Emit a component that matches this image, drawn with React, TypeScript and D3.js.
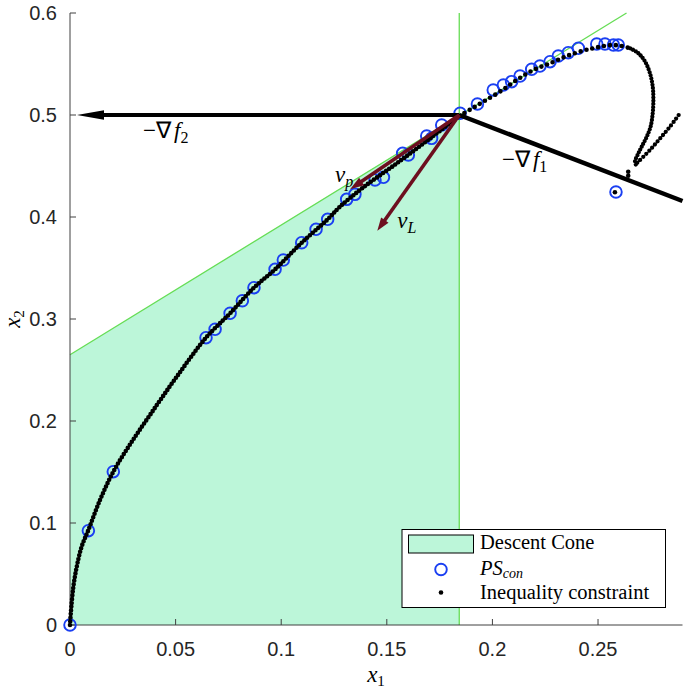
import React from 'react';
import * as d3 from 'd3';

// --- Data ---
const xTicks = [0, 0.05, 0.1, 0.15, 0.2, 0.25];
const xTickLabels = ['0', '0.05', '0.1', '0.15', '0.2', '0.25'];
const yTicks = [0, 0.1, 0.2, 0.3, 0.4, 0.5, 0.6];
const yTickLabels = ['0', '0.1', '0.2', '0.3', '0.4', '0.5', '0.6'];

const apex: [number, number] = [0.1843, 0.5];
const coneEdgeX = 0.1843;
const tangentLine: [number, number][] = [[0, 0.265], [0.2635, 0.6]];
const conePolygon: [number, number][] = [[0, 0], [0, 0.265], [0.1843, 0.5], [0.1843, 0]];

// inequality constraint (black dots), by branch
const lowerBranch: [number, number][] = [
  [0, 0], [0.0004, 0.012], [0.0016, 0.0376], [0.0032, 0.0572], [0.0055, 0.0768],
  [0.0087, 0.0931], [0.0142, 0.1225], [0.0205, 0.1503], [0.0284, 0.177], [0.0379, 0.206],
  [0.0497, 0.241], [0.0644, 0.2817], [0.0758, 0.3056], [0.0871, 0.3307], [0.0971, 0.3487],
  [0.1097, 0.3748], [0.122, 0.3977], [0.1278, 0.4101], [0.1389, 0.4291], [0.1547, 0.4526],
  [0.1705, 0.4771], [0.1843, 0.499],
];
const upperBranch: [number, number][] = [
  [0.1843, 0.499], [0.19, 0.506], [0.1957, 0.513], [0.2036, 0.5229], [0.2115, 0.5343],
  [0.2194, 0.5441], [0.2273, 0.5507], [0.2352, 0.5578], [0.243, 0.5631], [0.2478, 0.5654],
  [0.2525, 0.5676], [0.2573, 0.5686], [0.2612, 0.5676], [0.2652, 0.5654],
];
const loopBranch: [number, number][] = [
  [0.2652, 0.5654], [0.2691, 0.5605], [0.2723, 0.5523], [0.2746, 0.5409], [0.2759, 0.5278],
  [0.2762, 0.5147], [0.2759, 0.5017], [0.2749, 0.4886], [0.2731, 0.4788], [0.2707, 0.469],
  [0.2691, 0.4624], [0.2675, 0.4542], [0.268, 0.451],
];
const rightBranch: [number, number][] = [
  [0.2686, 0.4533], [0.2746, 0.4657], [0.2794, 0.4771], [0.2841, 0.4886], [0.2888, 0.5017],
];
const looseDots: [number, number][] = [[0.2643, 0.4444], [0.2643, 0.4405], [0.258, 0.4242]];

// PS_con (blue circles)
const psCon: [number, number][] = [
  [0, 0], [0.0087, 0.0925], [0.0205, 0.1503], [0.0644, 0.2817], [0.0687, 0.2899],
  [0.0758, 0.3056], [0.0816, 0.3179], [0.0871, 0.3307], [0.0971, 0.3487], [0.101, 0.3578],
  [0.1097, 0.3748], [0.1165, 0.3879], [0.122, 0.3977], [0.131, 0.4173], [0.1349, 0.4222],
  [0.1444, 0.4363], [0.1484, 0.4389], [0.1575, 0.4624], [0.1602, 0.4608], [0.1689, 0.4794],
  [0.1712, 0.4771], [0.176, 0.4902], [0.1847, 0.5017], [0.1929, 0.5108], [0.2004, 0.5245],
  [0.2052, 0.5294], [0.2091, 0.5327], [0.2131, 0.5382], [0.2186, 0.5448], [0.2225, 0.548],
  [0.2273, 0.5523], [0.2312, 0.5578], [0.2359, 0.5611], [0.2407, 0.5654], [0.2494, 0.5696],
  [0.2533, 0.5696], [0.2573, 0.5686], [0.2596, 0.5686], [0.2585, 0.4245],
];

// vector ends (all start at apex)
const gradF2End: [number, number] = [0.0033, 0.5];
const gradF1End: [number, number] = [0.29, 0.4157];
const nuPEnd: [number, number] = [0.1326, 0.4271];
const nuLEnd: [number, number] = [0.1455, 0.3866];

const W = 685;
const H = 688;
const GREEN_FILL = '#bcf6d9';
const GREEN_LINE = '#66dd55';
const BLUE = '#1a3ff2';
const MAROON = '#6d0f1f';
const SANS = '"Liberation Sans", Arial, sans-serif';
const SERIF = '"Liberation Serif", "Times New Roman", serif';

const x = d3.scaleLinear().domain([0, 0.29]).range([70, 682.5]);
const y = d3.scaleLinear().domain([0, 0.6]).range([625, 13]);

const line = d3.line<[number, number]>().x(d => x(d[0])).y(d => y(d[1]));
const smooth = d3.line<[number, number]>().x(d => x(d[0])).y(d => y(d[1])).curve(d3.curveCatmullRom);

// arrow = shaft + filled triangle head, in pixel space
function arrow(from: [number, number], to: [number, number], headLen: number, headHalf: number) {
  const x0 = x(from[0]), y0 = y(from[1]), x1 = x(to[0]), y1 = y(to[1]);
  const len = Math.hypot(x1 - x0, y1 - y0);
  const ux = (x1 - x0) / len, uy = (y1 - y0) / len;
  const bx = x1 - ux * headLen, by = y1 - uy * headLen;
  const nx = -uy, ny = ux;
  return {
    shaft: `M${x0},${y0}L${bx + ux * 2},${by + uy * 2}`,
    head: `M${x1},${y1}L${bx + nx * headHalf},${by + ny * headHalf}L${bx - nx * headHalf},${by - ny * headHalf}Z`,
  };
}

const DottedPath = ({ pts, gap, size }: { pts: [number, number][]; gap: number; size: number }) => (
  <path d={smooth(pts) || ''} fill="none" stroke="#000" strokeWidth={size}
    strokeLinecap="round" strokeDasharray={`0 ${gap}`} />
);

const MathLabel = ({ at, parts }: { at: [number, number]; parts: React.ReactNode }) => (
  <text x={x(at[0])} y={y(at[1])} fontFamily={SERIF} fontSize={23} fill="#000">{parts}</text>
);

export default function App() {
  const a2 = arrow(apex, gradF2End, 27, 4.8);
  const ap = arrow(apex, nuPEnd, 14, 4.5);
  const al = arrow(apex, nuLEnd, 13, 4.5);

  return (
    <svg width={W} height={H} style={{ position: 'absolute', left: 0, top: 0, background: '#fff' }}>
      {/* descent cone */}
      <path d={line(conePolygon) + 'Z'} fill={GREEN_FILL} stroke="none" />
      <path d={line(tangentLine) || ''} stroke={GREEN_LINE} strokeWidth={1.3} fill="none" />
      <line x1={x(coneEdgeX)} x2={x(coneEdgeX)} y1={y(0)} y2={y(0.6)} stroke={GREEN_LINE} strokeWidth={1.3} />

      {/* axes */}
      <g stroke="#404040" strokeWidth={1}>
        <line x1={70} x2={682.5} y1={y(0)} y2={y(0)} />
        <line x1={70} x2={70} y1={y(0)} y2={y(0.6)} />
        {xTicks.map(t => <line key={'xt' + t} x1={x(t)} x2={x(t)} y1={y(0)} y2={y(0) - 6} />)}
        {yTicks.map(t => <line key={'yt' + t} x1={70} x2={76} y1={y(t)} y2={y(t)} />)}
      </g>
      <g fontFamily={SANS} fontSize={20} fill="#262626">
        {xTicks.map((t, i) => (
          <text key={'xl' + t} x={x(t)} y={656} textAnchor="middle">{xTickLabels[i]}</text>
        ))}
        {yTicks.map((t, i) => (
          <text key={'yl' + t} x={57} y={y(t) + 7} textAnchor="end">{yTickLabels[i]}</text>
        ))}
      </g>
      <text x={376} y={682} textAnchor="middle" fontFamily={SERIF} fontSize={23} fontStyle="italic">
        x<tspan fontStyle="normal" fontSize={15} dy={4}>1</tspan>
      </text>
      <text transform="translate(20,319) rotate(-90)" textAnchor="middle" fontFamily={SERIF} fontSize={23} fontStyle="italic">
        x<tspan fontStyle="normal" fontSize={15} dy={4}>2</tspan>
      </text>

      {/* PS_con circles */}
      {psCon.map((p, i) => (
        <circle key={'c' + i} cx={x(p[0])} cy={y(p[1])} r={5.8} fill="none" stroke={BLUE} strokeWidth={1.9} />
      ))}

      {/* inequality constraint dots */}
      <DottedPath pts={lowerBranch} gap={3.7} size={4.6} />
      <DottedPath pts={upperBranch} gap={6} size={4.6} />
      <DottedPath pts={loopBranch} gap={3.2} size={4.3} />
      <DottedPath pts={rightBranch} gap={4.2} size={4.3} />
      {looseDots.map((p, i) => <circle key={'d' + i} cx={x(p[0])} cy={y(p[1])} r={2.3} fill="#000" />)}

      {/* -grad f1 */}
      <path d={line([apex, gradF1End]) || ''} stroke="#000" strokeWidth={4.5} fill="none" />
      {/* -grad f2 */}
      <path d={a2.shaft} stroke="#000" strokeWidth={4.2} fill="none" />
      <path d={a2.head} fill="#000" />
      {/* nu_p, nu_L */}
      <path d={ap.shaft} stroke={MAROON} strokeWidth={3.6} fill="none" />
      <path d={ap.head} fill={MAROON} />
      <path d={al.shaft} stroke={MAROON} strokeWidth={3.6} fill="none" />
      <path d={al.head} fill={MAROON} />

      {/* vector labels */}
      <MathLabel at={[0.0346, 0.4775]} parts={<>−∇<tspan fontStyle="italic" dx={3}>f</tspan><tspan fontSize={16} dy={5}>2</tspan></>} />
      <MathLabel at={[0.2045, 0.449]} parts={<>−∇<tspan fontStyle="italic" dx={3}>f</tspan><tspan fontSize={16} dy={5}>1</tspan></>} />
      <MathLabel at={[0.1255, 0.4343]} parts={<><tspan fontStyle="italic">ν</tspan><tspan fontStyle="italic" fontSize={16} dy={5}>p</tspan></>} />
      <MathLabel at={[0.155, 0.3892]} parts={<><tspan fontStyle="italic">ν</tspan><tspan fontStyle="italic" fontSize={16} dy={5}>L</tspan></>} />

      {/* legend */}
      <g>
        <rect x={402} y={529.5} width={263.5} height={78} fill="#fff" stroke="#000" strokeWidth={1} />
        <rect x={408.5} y={535} width={65} height={18} fill={GREEN_FILL} stroke="#000" strokeWidth={1} />
        <circle cx={441} cy={569.5} r={5.8} fill="none" stroke={BLUE} strokeWidth={1.9} />
        <circle cx={441} cy={592.5} r={2.3} fill="#000" />
        <g fontFamily={SERIF} fontSize={20.5} fill="#000">
          <text x={480} y={548.5}>Descent Cone</text>
          <text x={480} y={575} fontStyle="italic">PS<tspan fontSize={14} dy={3}>con</tspan></text>
          <text x={480} y={598.5}>Inequality constraint</text>
        </g>
      </g>
    </svg>
  );
}
